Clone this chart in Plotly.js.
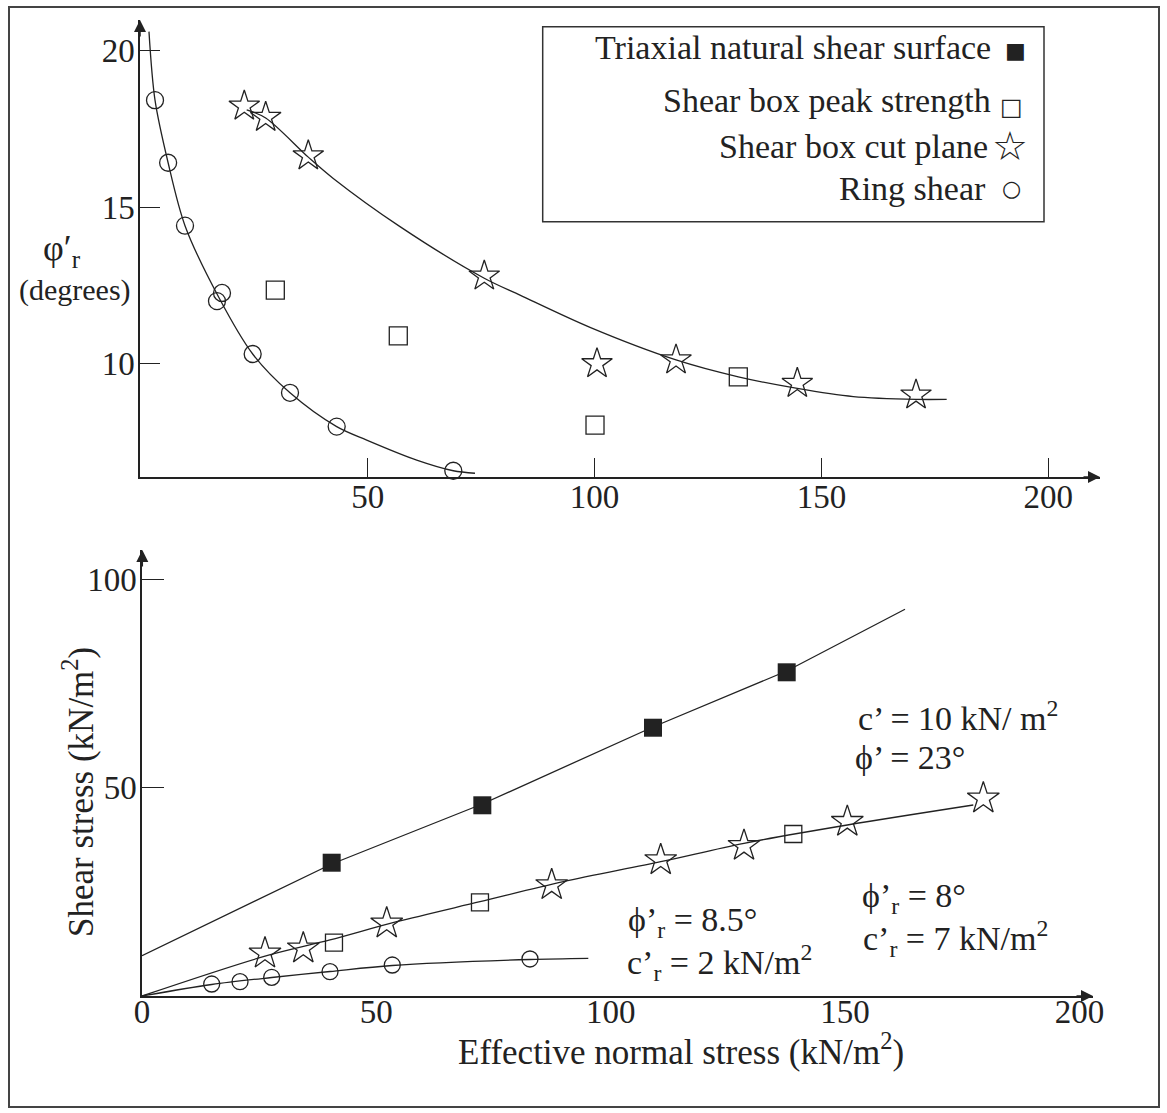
<!DOCTYPE html>
<html><head><meta charset="utf-8">
<script src="https://cdn.plot.ly/plotly-3.0.1.min.js"></script>
<style>html,body{margin:0;padding:0;background:#fff;}#chart{width:1167px;height:1113px;}</style>
</head><body><div id="chart"></div>
<script>
// ---------- Top panel: residual friction angle (degrees) vs effective normal stress ----------
const topRingX = [3.09, 5.98, 9.70, 17.86, 16.75, 24.62, 32.85, 43.14, 68.85];
const topRingY = [18.42, 16.42, 14.41, 12.26, 12.00, 10.31, 9.07, 7.99, 6.58];
const topRingFitX = [1.76, 3.09, 5.98, 9.70, 17.11, 24.62, 32.85, 43.14, 49.76, 60.78, 68.85, 73.63];
const topRingFitY = [20.61, 18.42, 16.42, 14.41, 12.13, 10.31, 9.07, 7.99, 7.56, 6.92, 6.58, 6.50];
const topCutX = [22.77, 27.49, 36.88, 75.68, 100.53, 117.95, 144.69, 170.86];
const topCutY = [18.23, 17.87, 16.64, 12.80, 10.00, 10.12, 9.37, 9.00];
const topCutFitX = [23.30, 27.49, 36.88, 42.39, 57.10, 75.68, 83.55, 98.99, 117.95, 131.68, 144.69, 157.03, 170.86, 177.62];
const topCutFitY = [18.11, 17.85, 16.60, 15.92, 14.38, 12.73, 12.19, 11.16, 10.12, 9.58, 9.21, 8.95, 8.86, 8.86];
const topPeakX = [29.61, 56.72, 100.09, 131.68];
const topPeakY = [12.35, 10.89, 8.04, 9.58];

// ---------- Bottom panel: shear stress vs effective normal stress (kN/m2) ----------
const triX = [40.47, 72.61, 109.02, 137.55];
const triY = [32.01, 45.80, 64.43, 77.74];
const triFitX = [0, 40.47, 72.61, 109.02, 137.55, 162.79];
const triFitY = [9.68, 31.70, 46.11, 64.60, 78.05, 92.87];
const peakX = [40.96, 72.11, 138.96];
const peakY = [12.80, 22.50, 38.90];
const cutX = [26.24, 34.41, 52.21, 87.41, 110.67, 128.44, 150.48, 179.50];
const cutY = [10.25, 11.46, 17.46, 26.66, 32.66, 36.09, 41.86, 47.48];
const boxFitX = [0, 25.88, 40.11, 54.34, 72.11, 89.89, 110.67, 128.44, 150.48, 177.36];
const boxFitY = [0, 9.44, 13.45, 17.84, 22.65, 27.45, 32.25, 36.67, 41.07, 45.87];
const ringX = [14.87, 20.91, 27.67, 40.11, 53.40, 82.78];
const ringY = [2.88, 3.43, 4.49, 5.84, 7.44, 8.89];
const ringFitX = [0, 14.87, 27.67, 40.11, 53.40, 82.78, 95.22];
const ringFitY = [0, 2.76, 4.44, 5.88, 7.32, 8.77, 9.05];

// ---------- Tick values / labels ----------
const topXTicks = [50, 100, 150, 200];
const topYTicks = [10, 15, 20];
const botXTicks = [0, 50, 100, 150, 200];
const botXTickMarks = [50, 100, 150];
const botYTicks = [50, 100];

const legendNames = ['Triaxial natural shear surface', 'Shear box peak strength', 'Shear box cut plane', 'Ring shear'];
const legendGlyphs = ['■', '□', '☆', '○'];

// ---------- styling ----------
const W = 1167, H = 1113;
const px = v => v / W, py = v => 1 - v / H;
const FONT = "'Liberation Serif', 'Times New Roman', Times, serif";
const INK = '#222';

const fitLine = (x, y, xa, ya, shape) => ({x, y, xaxis: xa, yaxis: ya, type: 'scatter', mode: 'lines',
  line: {color: INK, width: 1.3, shape: shape || 'spline', smoothing: 0.9}, cliponaxis: false, showlegend: false, hoverinfo: 'skip'});
const pts = (x, y, xa, ya, sym, size, name) => ({x, y, xaxis: xa, yaxis: ya, type: 'scatter', mode: 'markers', name,
  marker: {symbol: sym, size, color: INK, line: {color: INK, width: sym.indexOf('open') >= 0 ? 1.3 : 0}},
  cliponaxis: false, showlegend: false});

const data = [
  fitLine(topRingFitX, topRingFitY, 'x', 'y'),
  fitLine(topCutFitX, topCutFitY, 'x', 'y'),
  pts(topRingX, topRingY, 'x', 'y', 'circle-open', 17, 'Ring shear'),
  pts(topPeakX, topPeakY, 'x', 'y', 'square-open', 18, 'Shear box peak strength'),
  pts(topCutX, topCutY, 'x', 'y', 'star-open', 23, 'Shear box cut plane'),

  fitLine(triFitX, triFitY, 'x2', 'y2', 'linear'),
  fitLine(boxFitX, boxFitY, 'x2', 'y2'),
  fitLine(ringFitX, ringFitY, 'x2', 'y2'),
  pts(triX, triY, 'x2', 'y2', 'square', 18, 'Triaxial natural shear surface'),
  pts(peakX, peakY, 'x2', 'y2', 'square-open', 17, 'Shear box peak strength'),
  pts(cutX, cutY, 'x2', 'y2', 'star-open', 24, 'Shear box cut plane'),
  pts(ringX, ringY, 'x2', 'y2', 'circle-open', 16, 'Ring shear')
];

const tickfont = {family: FONT, size: 33, color: INK};
const baseAxis = {showgrid: false, zeroline: false, showline: true, linecolor: INK, linewidth: 1.6,
  ticks: 'inside', tickcolor: INK, tickwidth: 1.3, tickfont, tickmode: 'array'};

const ann = [];
// axis arrowheads
const arrow = (x, y, ax, ay) => ({xref: 'paper', yref: 'paper', x: px(x), y: py(y), ax, ay, text: '',
  showarrow: true, arrowhead: 2, arrowsize: 1.6, arrowwidth: 1.5, arrowcolor: INK, standoff: 0});
ann.push(arrow(1100, 477, -18, 0), arrow(140, 20, 0, 18), arrow(1093, 996, -18, 0), arrow(142.3, 550, 0, 18));

const txt = (text, x, y, size, xanchor, extra) => Object.assign({xref: 'paper', yref: 'paper', x: px(x), y: py(y),
  text, showarrow: false, xanchor: xanchor || 'left', yanchor: 'middle',
  font: {family: FONT, size, color: INK}}, extra || {});

// top y-axis label
ann.push(txt('φ′<sub>r</sub>', 62, 250, 36, 'center'));
ann.push(txt('(degrees)', 74.5, 290, 30, 'center'));
// bottom axis titles
ann.push(txt('Shear stress (kN/m<sup>2</sup>)', 78, 792, 35, 'center', {textangle: -90}));
ann.push(txt('Effective normal stress (kN/m<sup>2</sup>)', 681, 1049, 35, 'center'));
// strength parameters
ann.push(txt('c’ = 10 kN/ m<sup>2</sup>', 856, 716, 34, 'left'));
ann.push(txt('ϕ’ = 23°', 853, 757, 34, 'left'));
ann.push(txt('ϕ’<sub>r</sub> = 8.5°', 626, 922, 34, 'left'));
ann.push(txt('c’<sub>r</sub> = 2 kN/m<sup>2</sup>', 625, 962, 34, 'left'));
ann.push(txt('ϕ’<sub>r</sub> = 8°', 860, 898, 34, 'left'));
ann.push(txt('c’<sub>r</sub> = 7 kN/m<sup>2</sup>', 861, 938, 34, 'left'));
// legend
const legY = [48, 100, 147, 189];
const legRight = [993, 993, 990, 988];
const glyphX = [1015, 1012, 1010, 1012];
const glyphSize = [22, 24, 40, 22];
const glyphY = [50, 107, 146, 188];
for (let i = 0; i < legendNames.length; i++) {
  ann.push(txt(legendNames[i], legRight[i], legY[i], 34, 'right'));
  ann.push(txt(legendGlyphs[i], glyphX[i], glyphY[i], glyphSize[i], 'center', {font: {family: 'DejaVu Sans', size: glyphSize[i], color: INK}}));
}

const layout = {
  width: W, height: H, margin: {l: 0, r: 0, t: 0, b: 0},
  paper_bgcolor: '#fff', plot_bgcolor: 'rgba(0,0,0,0)', showlegend: false,
  font: {family: FONT, color: INK},
  xaxis: Object.assign({}, baseAxis, {domain: [px(140), px(1100)], range: [-0.22, 211.42], anchor: 'y',
    tickvals: topXTicks, ticklen: 19, ticklabelstandoff: -10}),
  yaxis: Object.assign({}, baseAxis, {domain: [py(477), py(20)], range: [6.38, 20.981], anchor: 'x',
    tickvals: topYTicks, ticklen: 20, ticklabelstandoff: -3}),
  xaxis2: Object.assign({}, baseAxis, {domain: [px(142), px(1093)], range: [0, 202.9], anchor: 'y2',
    tickvals: botXTicks, ticks: '', ticklabelstandoff: -14}),
  xaxis3: Object.assign({}, baseAxis, {overlaying: 'x2', range: [0, 202.9], anchor: 'y2', showline: false,
    tickvals: botXTickMarks, ticklen: 22, showticklabels: false}),
  yaxis2: Object.assign({}, baseAxis, {domain: [py(996), py(550)], range: [0, 107.11], anchor: 'x2',
    tickvals: botYTicks, ticklen: 22, ticklabelstandoff: -3}),
  shapes: [
    {type: 'rect', xref: 'paper', yref: 'paper', x0: px(9), x1: px(1159), y0: py(1107), y1: py(7), line: {color: '#444', width: 2}},
    {type: 'rect', xref: 'paper', yref: 'paper', x0: px(542.7), x1: px(1044), y0: py(221.7), y1: py(26.7), line: {color: '#333', width: 1.5}}
  ],
  annotations: ann
};

Plotly.newPlot('chart', data, layout, {staticPlot: true, displayModeBar: false});
</script></body></html>
